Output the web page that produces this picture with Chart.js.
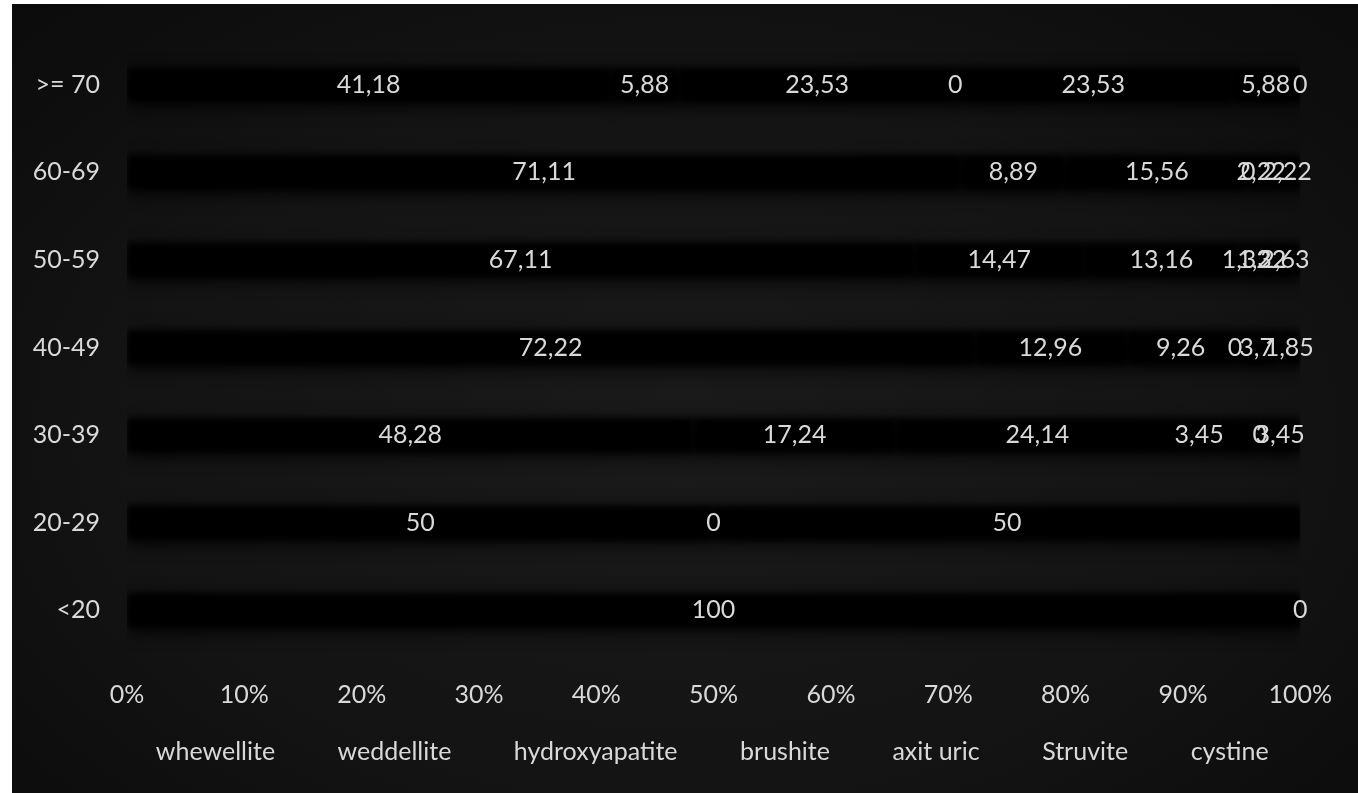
<!DOCTYPE html>
<html>
<head>
<meta charset="utf-8">
<script src="https://cdn.jsdelivr.net/npm/chart.js@4"></script>
<style>
  html, body { margin: 0; padding: 0; background: #ffffff; }
  #panel {
    position: absolute; left: 12px; top: 4px; width: 1346px; height: 789px;
    background: radial-gradient(ellipse at 50% 55%, #1a1a1a 0%, #141414 55%, #0b0b0b 100%);
  }
</style>
</head>
<body>
<div id="panel"><canvas id="graficaEdades"></canvas></div>
<script>
// grupos de edad (de arriba hacia abajo)
const grupos = ['>= 70', '60-69', '50-59', '40-49', '30-39', '20-29', '<20'];
const xTicks = ['0%', '10%', '20%', '30%', '40%', '50%', '60%', '70%', '80%', '90%', '100%'];

// porcentajes por tipo de cálculo (null = celda vacía)
const whewellite     = [41.18, 71.11, 67.11, 72.22, 48.28, 50,   100];
const weddellite     = [5.88,  8.89,  14.47, 12.96, 17.24, null, null];
const hydroxyapatite = [23.53, 15.56, 13.16, 9.26,  24.14, null, null];
const brushite       = [0,     0,     1.32,  0,     3.45,  0,    null];
const axitUric       = [23.53, 2.22,  1.32,  3.70,  3.45,  50,   null];
const struvite       = [5.88,  2.22,  2.63,  1.85,  0,     null, null];
const cystine        = [0,     null,  null,  null,  3.45,  null, 0];

// etiquetas que no aparecen en el original
const etiquetasOcultas = [{ serie: 'axit uric', grupo: '30-39' }];

const colorTexto = '#d9d9d9';
const fuente = { family: 'Lato, "Open Sans", sans-serif', size: 25 };

const series = [
    ['whewellite', whewellite],
    ['weddellite', weddellite],
    ['hydroxyapatite', hydroxyapatite],
    ['brushite', brushite],
    ['axit uric', axitUric],
    ['Struvite', struvite],
    ['cystine', cystine]
];

// barras negras difuminadas, con sombra
const sombraPlugin = {
    id: 'sombra',
    beforeDatasetsDraw(chart) {
        const c = chart.ctx;
        c.save();
        c.filter = 'blur(3px)';
        c.shadowColor = 'rgba(0,0,0,0.9)';
        c.shadowBlur = 16;
        c.shadowOffsetX = 2;
        c.shadowOffsetY = 4;
    },
    afterDatasetsDraw(chart) { chart.ctx.restore(); }
};

// valores en el centro de cada segmento, con coma decimal
const etiquetasPlugin = {
    id: 'etiquetas',
    afterLayout(chart) {
        // la leyenda del original está un poco más a la derecha
        chart.legend.left += 14;
        chart.legend.right += 14;
    },
    afterDatasetsDraw(chart) {
        const ctx = chart.ctx;
        ctx.save();
        ctx.font = fuente.size + 'px ' + fuente.family;
        ctx.fillStyle = colorTexto;
        ctx.textAlign = 'center';
        ctx.textBaseline = 'middle';
        chart.data.datasets.forEach((ds, d) => {
            chart.getDatasetMeta(d).data.forEach((bar, i) => {
                const v = ds.data[i];
                if (v === null) return;
                if (etiquetasOcultas.some(e => e.serie === ds.label && e.grupo === grupos[i])) return;
                const p = bar.getCenterPoint();
                ctx.fillText(String(v).replace('.', ','), p.x, p.y);
            });
        });
        ctx.restore();
    }
};

new Chart(document.getElementById('graficaEdades'), {
    type: 'bar',
    data: {
        labels: grupos,
        datasets: series.map(([nombre, valores]) => ({
            label: nombre,
            data: valores,
            backgroundColor: '#000000',
            borderWidth: 0,
            barPercentage: 0.38,
            categoryPercentage: 1
        }))
    },
    options: {
        indexAxis: 'y',
        responsive: true,
        maintainAspectRatio: false,
        animation: false,
        layout: { padding: { left: 20, right: 46, top: 37, bottom: 19 } },
        plugins: {
            legend: {
                position: 'bottom',
                labels: { color: colorTexto, font: fuente, boxWidth: 40, boxHeight: 0, padding: 10 }
            },
            tooltip: { enabled: false }
        },
        scales: {
            x: {
                stacked: true, min: 0, max: 100,
                grid: { display: false, drawTicks: false },
                border: { display: false },
                ticks: { stepSize: 10, color: colorTexto, font: fuente, padding: 26,
                         callback: (v, i) => xTicks[i] },
                afterFit: s => { s.height = 75; }
            },
            y: {
                stacked: true,
                grid: { display: false, drawTicks: false },
                border: { display: false },
                ticks: { color: colorTexto, font: fuente, padding: 27 },
                afterFit: s => { s.width = 95; s.paddingTop = 0; s.paddingBottom = 0; }
            }
        }
    },
    plugins: [sombraPlugin, etiquetasPlugin]
});
</script>
</body>
</html>
